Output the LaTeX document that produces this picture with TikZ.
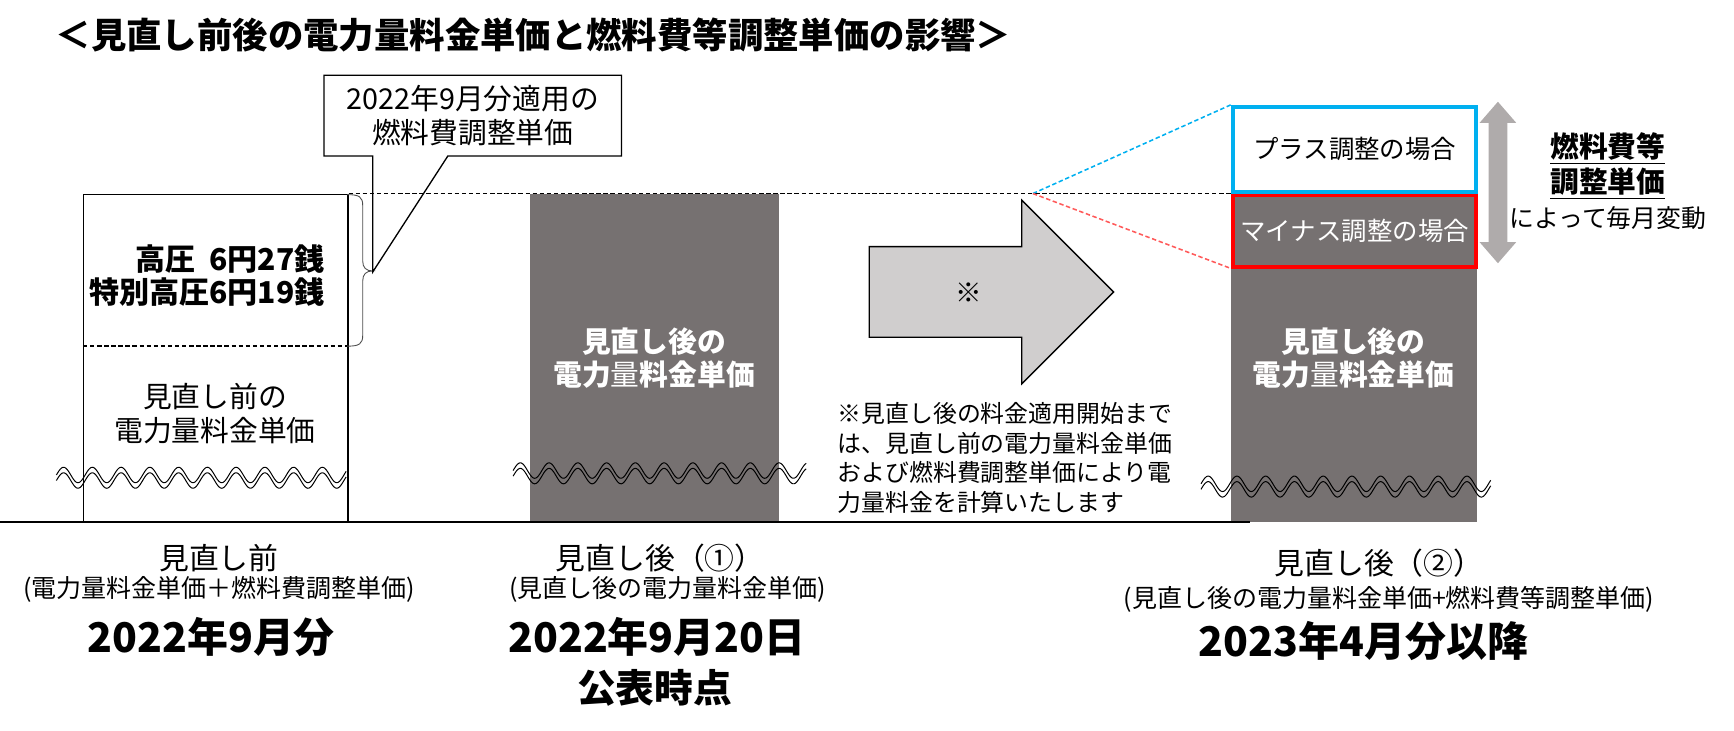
\documentclass[tikz,border=0pt]{standalone}
\usepackage{fontspec}
\setmainfont{Noto Sans CJK JP}
\definecolor{dgray}{HTML}{767171}
\definecolor{agray}{HTML}{D0CECE}
\definecolor{vgray}{HTML}{AFABAB}
\definecolor{cyanb}{HTML}{00B0F0}
\definecolor{redb}{HTML}{FF0000}
\definecolor{redd}{HTML}{FF5A5A}
\newcommand\fz[2]{\fontsize{#1}{#2}\selectfont}
\begin{document}
\begin{tikzpicture}[x=0.5pt,y=-0.5pt,
  txt/.style={inner sep=0pt, align=center},
  blk/.style={inner sep=0pt, anchor=north west},
  dsh/.style={dash pattern=on 2pt off 1.2pt, line width=0.7pt},
  wave/.style={line width=0.45pt, black},
  r13/.style={font=\fz{13}{15}},
  b13/.style={font=\fz{13}{15}\bfseries}]
\useasboundingbox (0,0) rectangle (1568,661);
% title
\node[txt, anchor=west, font=\fz{16}{19}\bfseries] (title) at (50,32) {＜見直し前後の電力量料金単価と燃料費等調整単価の影響＞};
% box 1
\node[blk, draw, line width=0.6pt, minimum width=119.5pt, minimum height=148.5pt] (box1) at (75,175) {};
\draw[dsh] (75,313) coordinate (d1) -- (314,313) coordinate (d2);
\node[txt, anchor=east, font=\fz{13.6}{16}\bfseries] (kouatsu) at (294,234) {高圧\hspace{0.45em}6円27銭};
\node[txt, anchor=east, font=\fz{13.6}{16}\bfseries] (tokubetsu) at (294,264) {特別高圧6円19銭};
\node[txt, r13] (mae) at (194.5,374) {見直し前の\\電力量料金単価};
% brace
\draw[line width=0.4pt, black!70] (314,176) .. controls (325,176) and (328,178) .. (328,186) -- (328,236) .. controls (328,242) and (331,245) .. (337,245) .. controls (331,245) and (328,248) .. (328,254) -- (328,303) .. controls (328,311) and (325,313) .. (314,313);
% callout
\draw[line width=0.6pt, fill=white] (293,68) -- (562,68) -- (562,141) -- (405,141) -- (337,246) -- (337,141) -- (293,141) -- cycle;
\node[txt, font=\fz{13}{15.5}] (callout) at (427.5,104.5) {2022年9月分適用の\\燃料費調整単価};
% box 2
\node[blk, fill=dgray, minimum width=112.5pt, minimum height=148.5pt] (box2) at (479,175) {};
\node[txt, b13, text=white] (box2t) at (591.5,324) {見直し後の\\電力{\mdseries 量}料金単価};
% box 3
\node[blk, fill=dgray, minimum width=111pt, minimum height=148pt] (box3) at (1113,176) {};
\node[txt, b13, text=white] (box3t) at (1224,324) {見直し後の\\電力{\mdseries 量}料金単価};
\node[draw=redb, line width=1.8pt, fill=dgray, inner sep=0pt, minimum width=110pt, minimum height=32.5pt, text=white, font=\fz{11.5}{13}] (minus) at (1225,208.5) {マイナス調整の場合};
\node[draw=cyanb, line width=1.8pt, fill=white, inner sep=0pt, minimum width=110pt, minimum height=38.5pt, font=\fz{11.5}{13}] (plus) at (1225,135) {プラス調整の場合};
% dashed level lines
\draw[dsh] (box1.north east) -- (1113,175) coordinate (lvl);
\coordinate (split) at (934,175);
\draw[dsh, cyanb] (split) -- (plus.north west);
\draw[dsh, redd] (split) -- (minus.south west);
% waves
\foreach \a/\b/\c in {51/313/432, 464/729/428, 1086/1348/440}{
  \draw[wave] plot[domain=\a:\b, samples=220, smooth] (\x,{\c-2.5-7*sin((\x-\a)*13.846)});
  \draw[wave] plot[domain=\a:\b, samples=220, smooth] (\x,{\c+2.5-7*sin((\x-\a)*13.846)});
}
% big arrow
\draw[line width=0.6pt, fill=agray] (786,223) -- (924,223) -- (924,181) -- (1007,264) -- (924,347) -- (924,305) -- (786,305) -- cycle;
\node[txt, font=\fz{12}{14}] (kome) at (876,265) {※};
\node[txt, anchor=west, align=left, font=\fz{10.8}{13.35}] (note) at (757,414) {※見直し後の料金適用開始まで\\は、見直し前の電力量料金単価\\および燃料費調整単価により電\\力量料金を計算いたします};
% double arrow
\fill[vgray] (1354.5,92) -- (1371,111) -- (1363,111) -- (1363,219) -- (1371,219) -- (1354.5,238) -- (1338,219) -- (1346,219) -- (1346,111) -- (1338,111) -- cycle;
\node[txt, b13] (nen1) at (1454,134) {\underline{燃料費等}};
\node[txt, b13] (nen2) at (1454,166) {\underline{調整単価}};
\node[txt, font=\fz{11.25}{13}] (maitsuki) at (1454,197) {によって毎月変動};
% baseline
\draw[line width=1.2pt] (0,472) coordinate (b0) -- (1130,472) coordinate (b1);
% bottom labels
\node[txt, font=\fz{13.5}{15}] (l1a) at (198,505) {見直し前};
\node[txt, font=\fz{11.3}{13}] (l1b) at (198,533) {(電力量料金単価＋燃料費調整単価)};
\node[txt, font=\fz{18.5}{21}\bfseries] (l1c) at (191,576) {2022年9月分};
\node[txt, font=\fz{13.5}{15}] (l2a) at (597,505) {見直し後（①）};
\node[txt, font=\fz{11.3}{13}] (l2b) at (604,533) {(見直し後の電力量料金単価)};
\node[txt, font=\fz{18.5}{21}\bfseries] (l2c) at (594,576) {2022年9月20日};
\node[txt, font=\fz{17.5}{21}\bfseries] (l2d) at (592,622) {公表時点};
\node[txt, font=\fz{13.5}{15}] (l3a) at (1247,509) {見直し後（②）};
\node[txt, font=\fz{11.3}{13}] (l3b) at (1256,542) {(見直し後の電力量料金単価+燃料費等調整単価)};
\node[txt, font=\fz{18.5}{21}\bfseries] (l3c) at (1233,580) {2023年4月分以降};
\end{tikzpicture}
\end{document}
